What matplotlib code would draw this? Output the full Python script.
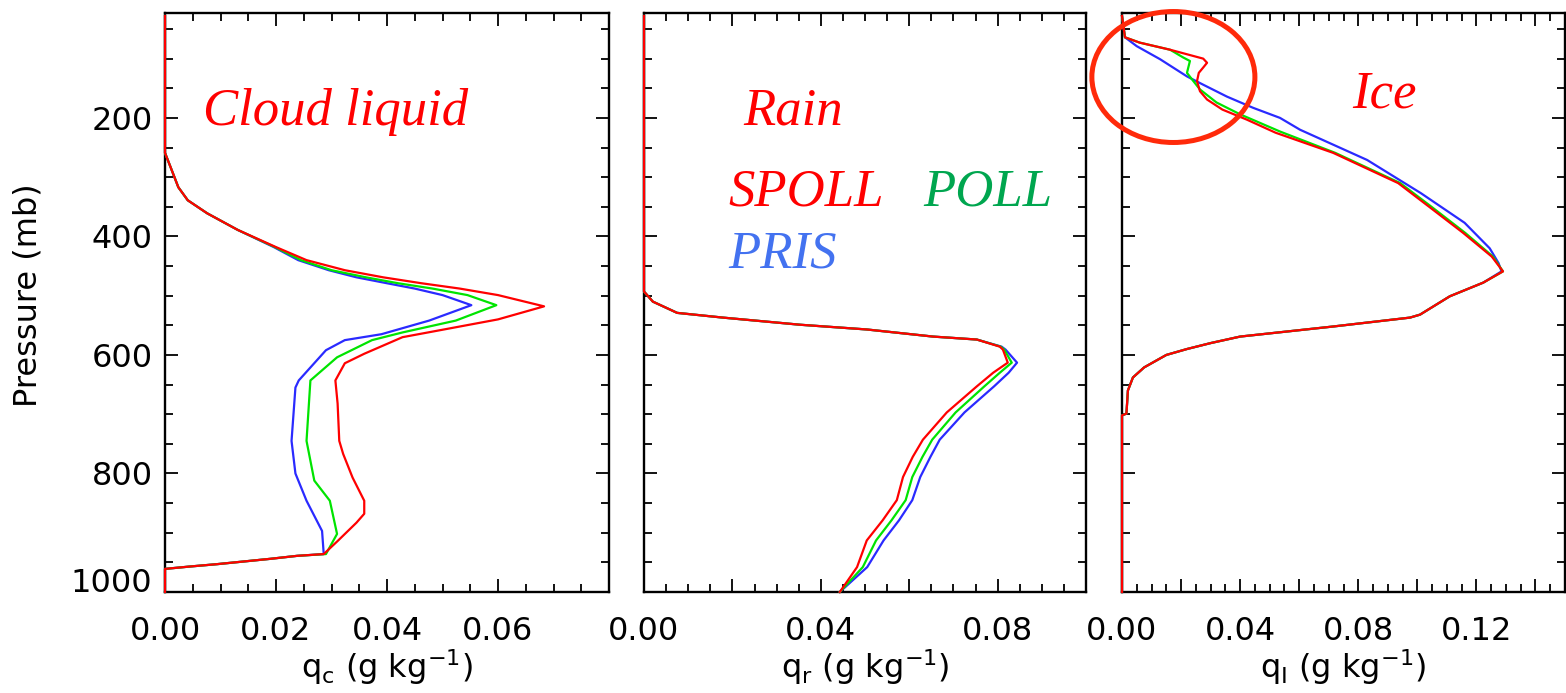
import matplotlib

matplotlib.use("Agg")
import matplotlib.pyplot as plt
from matplotlib.patches import Ellipse
from matplotlib.ticker import MultipleLocator

plt.rcParams["font.family"] = ["DejaVu Sans"]
plt.rcParams["mathtext.default"] = "regular"

# --- profiles: pressure (mb) and mixing ratio (g/kg) per microphysics scheme ---
# cloud liquid
cloud_p_spoll = [28, 259, 283, 317, 339, 361, 389, 418, 440, 457, 469, 479, 488, 499, 518,
                 540, 558, 570, 598, 614, 643, 682, 745, 767, 807, 846, 868, 883, 914, 936,
                 939, 944, 953, 957, 961, 1000]
cloud_q_spoll = [0, 0, .001, .0024, .0041, .0076, .0131, .020, .0255, .0324, .0393, .0462, .0531,
                 .060, .0683, .060, .0497, .0428, .0359, .0324, .0307, .0311, .0314, .0321, .0338,
                 .0359, .0359, .0345, .0311, .0286, .0238, .019, .0094, .0045, 0, 0]
cloud_p_poll = [28, 259, 283, 317, 339, 361, 389, 418, 440, 457, 469, 479, 488, 499, 516, 542,
                562, 575, 604, 643, 745, 812, 846, 902, 936, 939, 944, 953, 957, 961, 1000]
cloud_q_poll = [0, 0, .001, .0024, .0041, .0076, .0131, .0198, .0245, .030, .0362, .042, .0482,
                .0545, .0597, .0524, .0428, .0373, .031, .0262, .0255, .0269, .0297, .031, .029,
                .0238, .019, .0094, .0045, 0, 0]
cloud_p_pris = [28, 259, 283, 317, 339, 361, 389, 418, 440, 457, 469, 479, 488, 499, 516, 542,
                565, 575, 592, 643, 655, 745, 800, 846, 897, 936, 939, 944, 953, 957, 961, 1000]
cloud_q_pris = [0, 0, .001, .0024, .0041, .0076, .0131, .0196, .024, .0295, .0345, .040, .045,
                .050, .0552, .0476, .039, .0324, .029, .0241, .0235, .0228, .0235, .0255, .0283,
                .0286, .0238, .019, .0094, .0045, 0, 0]

# rain
rain_p = [28, 493, 510, 529, 537, 549, 557, 569, 574, 586, 591, 613, 630, 653, 697, 743, 772,
          806, 845, 879, 913, 958, 1000]
rain_q_spoll = [0, 0, .002, .0075, .0179, .0353, .0504, .0654, .0753, .0805, .0812, .0823, .079,
                .0753, .0685, .0631, .0608, .0586, .0572, .054, .0504, .0482, .0443]
rain_q_poll = [0, 0, .002, .0075, .0179, .0353, .0504, .0654, .0753, .0807, .0815, .0832, .0805,
               .0770, .0705, .0652, .0630, .0607, .0592, .0560, .0525, .0495, .0443]
rain_q_pris = [0, 0, .002, .0075, .0179, .0353, .0504, .0654, .0753, .0809, .0818, .0844, .0825,
               .0792, .0725, .0669, .0648, .0625, .0607, .0577, .0542, .0505, .0443]

# ice: upper part differs by scheme, lower part is shared
ice_p_spoll = [28, 64, 73, 85, 100, 107, 115, 124, 138, 155, 169, 186, 203, 225, 259, 310, 350,
               394, 434, 459]
ice_q_spoll = [0, .001, .006, .0163, .0275, .0288, .0275, .026, .0254, .0264, .0288, .034,
               .0423, .0520, .0715, .0935, .104, .1155, .1252, .129]
ice_p_poll = [28, 64, 73, 85, 98, 104, 124, 135, 152, 174, 194, 223, 259, 310, 350, 394, 434, 459]
ice_q_poll = [0, .001, .006, .0163, .0207, .023, .022, .0237, .0264, .032, .040, .0535, .0722,
              .0942, .1048, .1162, .1256, .129]
ice_p_pris = [28, 64, 79, 101, 130, 144, 164, 183, 200, 220, 271, 327, 377, 420, 445, 459]
ice_q_pris = [0, .001, .005, .0129, .022, .0275, .0355, .0444, .0535, .0603, .083, .1012, .116,
              .1245, .1275, .1285]
ice_low_p = [478, 501, 532, 537, 552, 569, 580, 590, 600, 621, 638, 660, 699, 702, 1000]
ice_low_q = [.1223, .111, .1009, .0975, .0715, .040, .030, .022, .015, .0075, .0037, .002,
             .0015, 0, 0]

p_ticks = [200, 400, 600, 800, 1000]
p_labels = ["200", "400", "600", "800", "1000"]
cloud_xticks = [0, .02, .04, .06]
cloud_xlabels = ["0.00", "0.02", "0.04", "0.06"]
rain_xticks = [0, .02, .04, .06, .08]
rain_xlabels = ["0.00", "", "0.04", "", "0.08"]
ice_xticks = [0, .02, .04, .06, .08, .10, .12, .14]
ice_xlabels = ["0.00", "", "0.04", "", "0.08", "", "0.12", ""]

RED, GREEN, BLUE = "#ff0000", "#00e400", "#2a2aff"
W, H = 1566, 693
TOP, BOT = 13, 592

fig = plt.figure(figsize=(W / 100, H / 100), dpi=100)


def add_panel(left, right):
    return fig.add_axes([left / W, 1 - BOT / H, (right - left) / W, (BOT - TOP) / H])


def style(ax, xmax, xticks, xlabels, xlabel, show_y):
    ax.set_xlim(0, xmax)
    ax.set_ylim(1000, 23)
    ax.set_xticks(xticks, labels=xlabels)
    ax.xaxis.set_minor_locator(MultipleLocator(0.005))
    ax.set_yticks(p_ticks, labels=p_labels if show_y else [])
    ax.yaxis.set_minor_locator(MultipleLocator(50))
    ax.tick_params(which="both", direction="in", top=True, right=True, width=1.3,
                   labelsize=23, colors="black")
    ax.tick_params(which="major", length=9.5)
    ax.tick_params(which="minor", length=5.5)
    ax.tick_params(axis="x", pad=17)
    ax.tick_params(axis="y", pad=9, labelleft=show_y)
    for s in ax.spines.values():
        s.set_linewidth(1.7)
    ax.set_xlabel(xlabel, fontsize=23)
    ax.xaxis.set_label_coords(0.5, (BOT - 667) / (BOT - TOP))
    ax.xaxis.label.set_va("center")
    if show_y:
        for lbl in ax.get_yticklabels():
            if lbl.get_text() == "1000":
                lbl.set_va("baseline")


def profile(ax, q, p, color):
    # drawn above the frame so the zero segments show along the left spine
    ax.plot(q, p, color=color, lw=1.6, clip_on=False, zorder=3)


def label(ax, x, y, text, color):
    ax.text(x, y, text, transform=ax.transAxes, color=color, fontsize=38,
            family="Liberation Serif", style="italic", va="baseline", ha="left")


ax1 = add_panel(165, 609)
profile(ax1, cloud_q_pris, cloud_p_pris, BLUE)
profile(ax1, cloud_q_poll, cloud_p_poll, GREEN)
profile(ax1, cloud_q_spoll, cloud_p_spoll, RED)
style(ax1, 0.08, cloud_xticks, cloud_xlabels, r"q$_{c}$ (g kg$^{-1}$)", True)
ax1.set_ylabel("Pressure (mb)", fontsize=23)
ax1.yaxis.set_label_coords((28 - 165) / 444, 0.513)
ax1.yaxis.label.set_va("center")
label(ax1, 0.0856, 0.8066, "Cloud liquid", RED)

ax2 = add_panel(644, 1086)
profile(ax2, rain_q_pris, rain_p, BLUE)
profile(ax2, rain_q_poll, rain_p, GREEN)
profile(ax2, rain_q_spoll, rain_p, RED)
style(ax2, 0.10, rain_xticks, rain_xlabels, r"q$_{r}$ (g kg$^{-1}$)", False)
label(ax2, 0.224, 0.8066, "Rain", RED)
label(ax2, 0.190, 0.668, "SPOLL", RED)
label(ax2, 0.631, 0.668, "POLL", "#00a64f")
label(ax2, 0.190, 0.5596, "PRIS", "#4372f0")

ax3 = add_panel(1122, 1565)
profile(ax3, ice_q_pris + ice_low_q, ice_p_pris + ice_low_p, BLUE)
profile(ax3, ice_q_poll + ice_low_q, ice_p_poll + ice_low_p, GREEN)
profile(ax3, ice_q_spoll + ice_low_q, ice_p_spoll + ice_low_p, RED)
style(ax3, 0.15, ice_xticks, ice_xlabels, r"q$_{I}$ (g kg$^{-1}$)", False)
label(ax3, 0.519, 0.836, "Ice", RED)

# highlight the upper-level ice differences
ax3.add_patch(Ellipse((0.0174, 131), 0.0552, 221, fill=False, ec="#ff2a0a", lw=3.6,
                      clip_on=False, zorder=5))

fig.savefig("out.png", dpi=100)
